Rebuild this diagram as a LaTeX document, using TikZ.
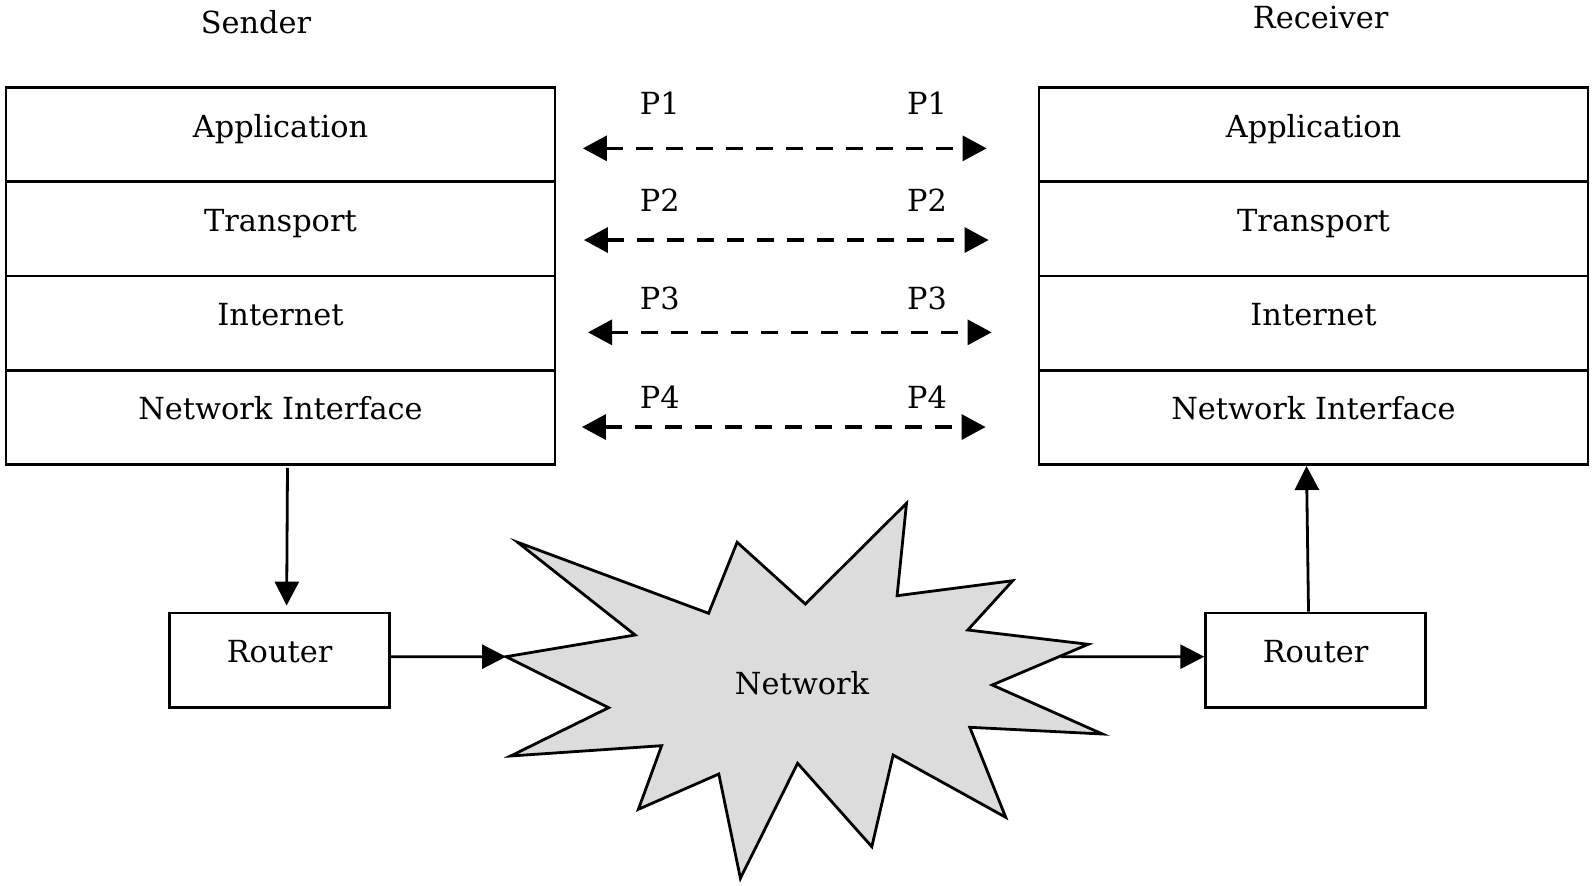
\documentclass[tikz,border=0pt]{standalone}
\usepackage{fontspec}
\setmainfont{DejaVu Serif}
\usetikzlibrary{arrows.meta}
\begin{document}
\begin{tikzpicture}[x=0.5pt,y=-0.5pt,
  every node/.style={font=\fontsize{15.2}{18}\selectfont},
  layer/.style={draw,line width=1.4pt,minimum width=274.5pt,minimum height=47.15pt,inner sep=0pt,text height=6pt,text depth=3.5pt},
  routerbox/.style={draw,line width=1.4pt,minimum width=109.8pt,minimum height=47.25pt,inner sep=0pt,text height=6pt,text depth=3.5pt},
  peer/.style={line width=1.6pt,dash pattern=on 8.5pt off 6.5pt,{Triangle[length=12pt,width=12.5pt]}-{Triangle[length=12pt,width=12.5pt]}},
  flow/.style={line width=1.4pt,-{Triangle[length=12pt,width=12pt]}},
  plabel/.style={inner sep=0pt}]
\useasboundingbox (0,0) rectangle (1594,886);

% titles
\node (sender) at (256,22) {Sender};
\node (receiver) at (1320.6,17.3) {Receiver};

% sender stack
\node[layer] (appS) at (280.5,134.55) {Application};
\node[layer] (trS)  at (280.5,228.85) {Transport};
\node[layer] (inS)  at (280.5,323.15) {Internet};
\node[layer] (niS)  at (280.5,417.45) {Network Interface};

% receiver stack
\node[layer] (appR) at (1313.5,134.55) {Application};
\node[layer] (trR)  at (1313.5,228.85) {Transport};
\node[layer] (inR)  at (1313.5,323.15) {Internet};
\node[layer] (niR)  at (1313.5,417.45) {Network Interface};

% routers
\node[routerbox] (rS) at (279.6,660.25) {Router};
\node[routerbox] (rR) at (1315.5,660.25) {Router};

% peer arrows
\draw[peer] ([xshift=13.25pt,yshift=-6.9pt]appS.east) -- ([xshift=-25.5pt,yshift=-6.9pt]appR.west);
\draw[peer] ([xshift=13.75pt,yshift=-5.6pt]trS.east) -- ([xshift=-24.5pt,yshift=-5.6pt]trR.west);
\draw[peer] ([xshift=15.8pt,yshift=-4.6pt]inS.east) -- ([xshift=-23pt,yshift=-4.6pt]inR.west);
\draw[peer] ([xshift=12.75pt,yshift=-4.8pt]niS.east) -- ([xshift=-26pt,yshift=-4.8pt]niR.west);

% P labels
\node[plabel] (p1a) at (659.8,103.7) {P1};
\node[plabel] (p1b) at (927,103.7) {P1};
\node[plabel] (p2a) at (659.8,200.3) {P2};
\node[plabel] (p2b) at (927,200.3) {P2};
\node[plabel] (p3a) at (659.8,298.9) {P3};
\node[plabel] (p3b) at (927,298.9) {P3};
\node[plabel] (p4a) at (659.8,397.5) {P4};
\node[plabel] (p4b) at (927,397.5) {P4};

% network star
\coordinate (netL) at (506,656.7);
\coordinate (netR) at (1061,656.7);
\draw[line width=1.4pt,fill={rgb,255:red,220;green,220;blue,220},line join=miter]
  (netL) -- (635.1,635) -- (517.6,542.3) -- (708.6,613.3) -- (737.1,542.3)
  -- (805.3,604) -- (906.5,503.3) -- (897.1,595.7) -- (1012.7,580.7)
  -- (967.8,630) -- (1088.2,644.3) -- (992.2,685) -- (1102.4,734)
  -- (969.8,727.3) -- (1005.7,817.3) -- (893.1,755) -- (871.8,846.7)
  -- (797.6,763.3) -- (740.4,878.3) -- (718.8,774) -- (638.4,809.3)
  -- (661.6,745.7) -- (510.6,756) -- (608.6,707.7) -- cycle;
\node (net) at (802,683) {Network};

% flows
\draw[flow,shorten <=1pt,shorten >=3pt] ([xshift=3.5pt]niS.south) -- ([xshift=3.5pt]rS.north);
\draw[flow] ([xshift=-3.5pt]rR.north) -- ([xshift=-3.5pt]niR.south);
\draw[flow] ([yshift=1.78pt]rS.east) -- (netL);
\draw[flow] (netR) -- ([yshift=1.78pt]rR.west);
\end{tikzpicture}
\end{document}
